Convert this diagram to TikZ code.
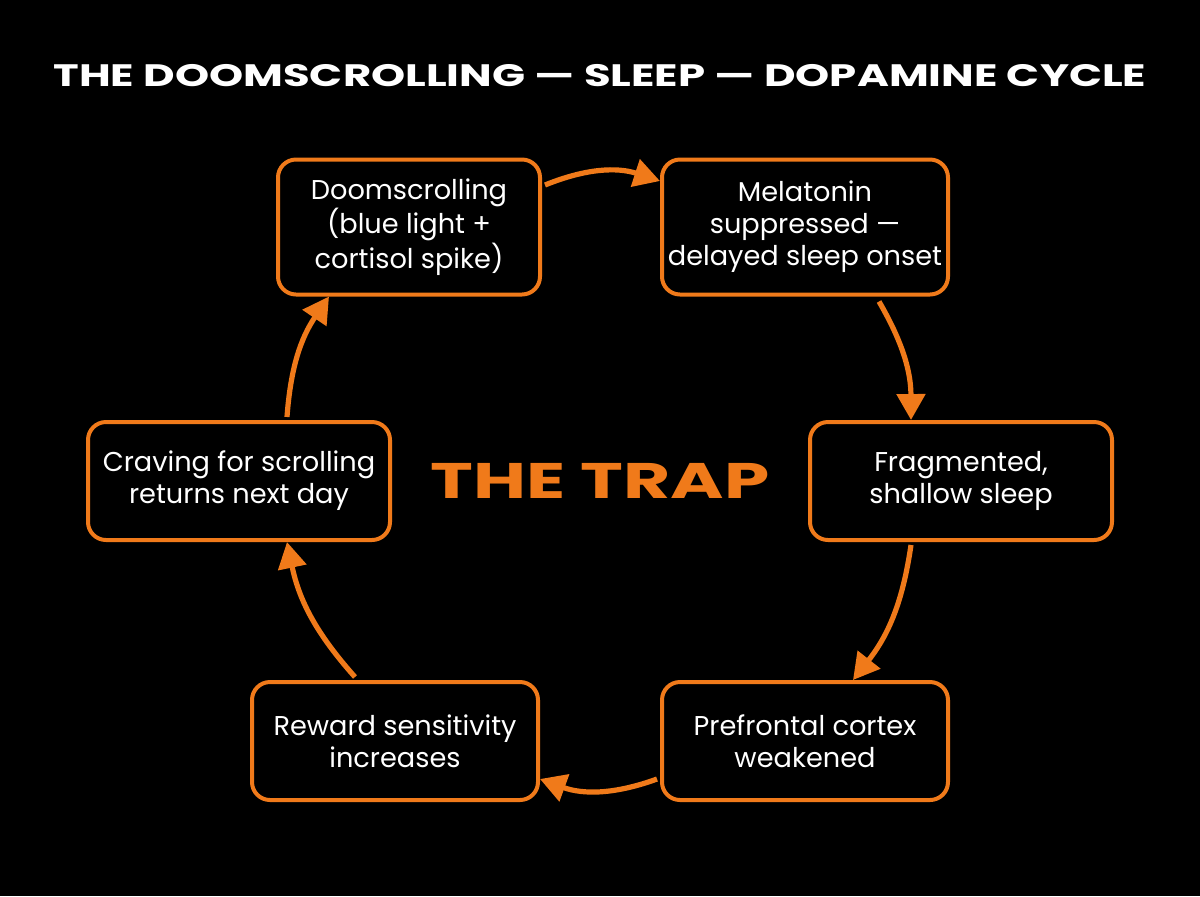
\documentclass[tikz,border=0pt]{standalone}
\usepackage{fontspec}
\setmainfont{Poppins}
\usetikzlibrary{arrows.meta}
\definecolor{trapor}{HTML}{F07A1A}
\tikzset{
  stepbox/.style={draw=trapor, line width=2pt, rounded corners=9pt, align=center,
    text=white, font=\fontsize{13.6}{16}\selectfont, inner sep=0pt},
  cyc/.style={-{Triangle[length=13pt,width=14pt]}, trapor, line width=2.6pt}
}
\begin{document}
\begin{tikzpicture}[x=0.5pt,y=-0.5pt]
  \fill[black] (0,0) rectangle (1200,896);
  \useasboundingbox (0,0) rectangle (1200,896);

  % title
  \node[text=white, font=\fontsize{15.5}{18}\bfseries\selectfont] (title) at (600,76)
    {\scalebox{1.4}[1]{THE DOOMSCROLLING — SLEEP — DOPAMINE CYCLE}};
  \node[text=trapor, font=\fontsize{25}{28}\bfseries\selectfont] (trap) at (600,481)
    {\scalebox{1.45}[1]{THE TRAP}};

  % boxes
  \node[stepbox, minimum width=131pt, minimum height=67.5pt] (doom) at (409,227)
    {Doomscrolling\\(blue light +\\cortisol spike)};
  \node[stepbox, minimum width=143pt, minimum height=67.5pt] (mela) at (805,227)
    {Melatonin\\suppressed —\\delayed sleep onset};
  \node[stepbox, minimum width=151pt, minimum height=59pt] (frag) at (961,481)
    {Fragmented,\\shallow sleep};
  \node[stepbox, minimum width=143pt, minimum height=59pt] (pref) at (805,741)
    {Prefrontal cortex\\weakened};
  \node[stepbox, minimum width=143pt, minimum height=59pt] (rewd) at (395,741)
    {Reward sensitivity\\increases};
  \node[stepbox, minimum width=151pt, minimum height=59pt] (crav) at (239,481)
    {Craving for scrolling\\returns next day};

  % cycle arrows
  \draw[cyc] ([yshift=21pt]doom.east) ++(3,0) to[bend left=20] ([yshift=23pt]mela.west);
  \draw[cyc] ([xshift=37pt]mela.south) ++(0,5) to[bend left=15] ([xshift=-25pt]frag.north);
  \draw[cyc] ([xshift=-25pt]frag.south) ++(0,3) to[bend left=15] ([xshift=24pt]pref.north);
  \draw[cyc] ([yshift=-19pt]pref.west) ++(-3,0) to[bend left=20] ([yshift=-19pt]rewd.east);
  \draw[cyc] ([xshift=-20pt]rewd.north) ++(0,-3) to[bend left=15] ([xshift=24pt]crav.south);
  \draw[cyc] ([xshift=24pt]crav.north) ++(0,-3) to[bend left=15] ([xshift=-40pt]doom.south);
\end{tikzpicture}
\end{document}
